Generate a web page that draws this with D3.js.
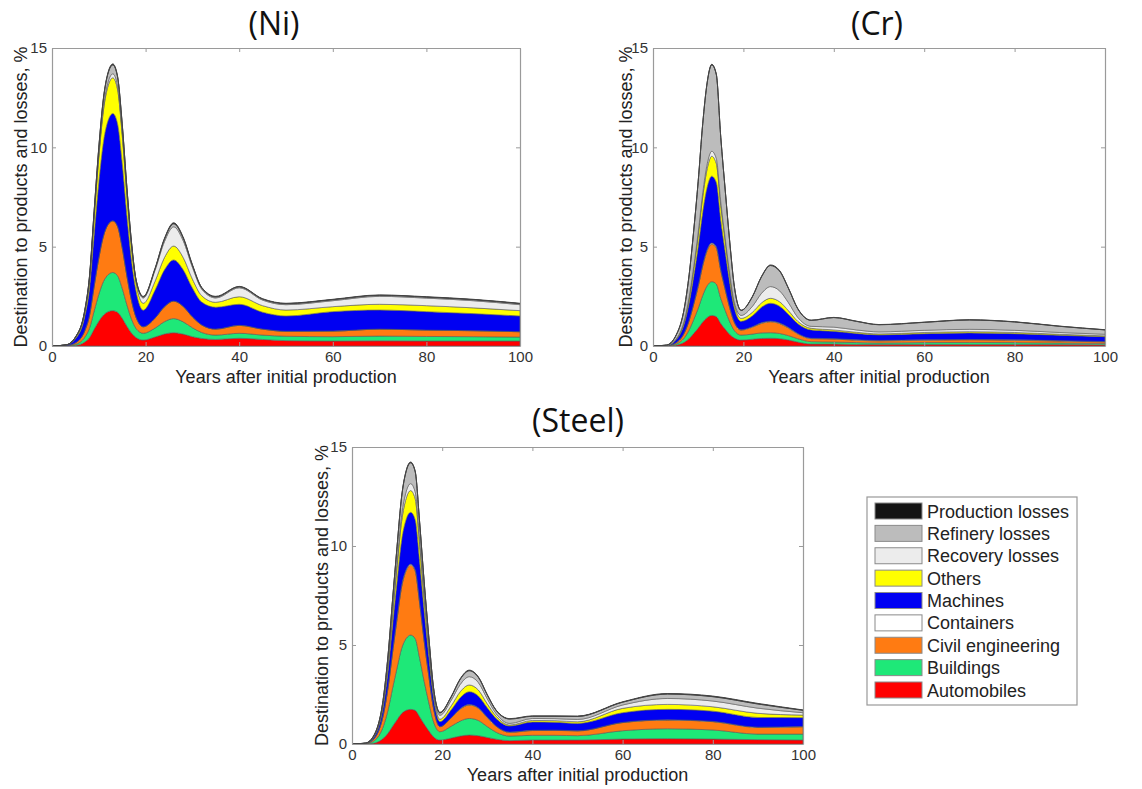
<!DOCTYPE html>
<html>
<head>
<meta charset="utf-8">
<script src="https://cdn.jsdelivr.net/npm/d3@7"></script>
<style>
  html, body { margin: 0; padding: 0; background: #fff; }
  svg { display: block; }
  .tick text { font-family: "Liberation Sans", Arial, sans-serif; font-size: 15px; fill: #333; }
</style>
</head>
<body>
<div id="chart"></div>
<script>
// years sampled along the x axis
const years = [0, 3, 5, 7, 8, 9, 10, 11, 12, 13, 14, 15, 16, 17, 18, 19.5, 22, 24, 26, 28, 30, 32, 35, 40, 45, 50, 60, 70, 80, 90, 100];

const seriesNames = ["Automobiles", "Buildings", "Civil engineering", "Containers", "Machines", "Others", "Recovery losses", "Refinery losses", "Production losses"];
const seriesColors = ["#ff0000", "#1ee878", "#ff7b12", "#ffffff", "#0000f2", "#ffff00", "#ececec", "#bcbcbc", "#141414"];

const xTicks = [0, 20, 40, 60, 80, 100];
const yTicks = [0, 5, 10, 15];

// (Ni) layer thicknesses, %
const niAutomobiles = [0, 0, .03, .2, .42, .84, 1.25, 1.56, 1.73, 1.78, 1.70, 1.40, 1.0, .65, .42, .3, .45, .6, .67, .6, .47, .38, .33, .39, .33, .27, .25, .26, .25, .25, .25];
const niBuildings = [0, .005, .05, .24, .47, .92, 1.35, 1.69, 1.86, 1.92, 1.84, 1.51, 1.08, .70, .45, .34, .45, .62, .71, .62, .45, .30, .22, .25, .22, .22, .22, .24, .23, .22, .20];
const niCivil = [0, .01, .08, .33, .64, 1.24, 1.83, 2.29, 2.53, 2.6, 2.49, 2.05, 1.46, .93, .55, .33, .5, .75, .88, .78, .55, .38, .30, .40, .30, .25, .28, .35, .32, .30, .27];
const niContainers = [0, 0, 0, 0, 0, 0, 0, 0, 0, 0, 0, 0, 0, 0, 0, 0, 0, 0, 0, 0, 0, 0, 0, 0, 0, 0, 0, 0, 0, 0, 0];
const niMachines = [0, .03, .2, .7, 1.33, 2.58, 3.8, 4.75, 5.24, 5.4, 5.17, 4.26, 3.04, 2.0, 1.3, .83, 1.4, 1.85, 2.07, 1.85, 1.45, 1.15, 1.10, 1.06, .85, .77, .98, .96, .93, .86, .79];
const niOthers = [0, .01, .06, .23, .45, .86, 1.27, 1.59, 1.75, 1.8, 1.73, 1.42, 1.02, .66, .42, .35, .45, .62, .70, .62, .45, .32, .25, .38, .33, .30, .25, .29, .30, .29, .27];
const niRecovery = [0, 0, .01, .03, .05, .1, .14, .18, .19, .2, .19, .16, .12, .1, .1, .27, .55, .8, .97, .85, .6, .33, .22, .45, .28, .27, .30, .40, .38, .36, .30];
const niRefinery = [0, 0, .01, .06, .11, .22, .32, .40, .44, .45, .43, .36, .25, .13, .04, .05, .07, .12, .15, .13, .09, .06, .05, .05, .05, .05, .05, .05, .05, .05, .05];
const niProduction = [0, .005, .01, .01, .02, .03, .04, .04, .05, .05, .05, .04, .03, .03, .02, .03, .03, .04, .05, .05, .04, .03, .03, .02, .02, .02, .02, .02, .02, .02, .02];

// (Cr)
const crAutomobiles = [0, 0, .04, .2, .38, .63, .9, 1.21, 1.44, 1.54, 1.48, 1.13, .84, .58, .4, .3, .34, .38, .39, .37, .3, .2, .1, .1, .08, .07, .08, .08, .08, .07, .06];
const crBuildings = [0, .005, .05, .23, .43, .7, 1.0, 1.34, 1.6, 1.7, 1.64, 1.26, .94, .63, .38, .25, .26, .28, .28, .26, .22, .17, .12, .1, .09, .08, .09, .1, .09, .08, .07];
const crCivil = [0, .005, .06, .26, .48, .77, 1.1, 1.49, 1.77, 1.89, 1.82, 1.4, 1.04, .69, .4, .25, .35, .48, .55, .5, .38, .24, .15, .15, .12, .11, .12, .13, .12, .1, .08];
const crContainers = [0, 0, 0, .01, .01, .02, .03, .04, .05, .05, .05, .04, .03, .02, .02, .02, .02, .03, .03, .03, .03, .02, .02, .02, .02, .02, .02, .02, .02, .02, .02];
const crMachines = [0, .015, .13, .48, .86, 1.37, 1.97, 2.65, 3.15, 3.37, 3.25, 2.49, 1.85, 1.23, .7, .42, .55, .78, .9, .84, .66, .5, .42, .37, .32, .28, .31, .33, .31, .27, .24];
const crOthers = [0, .005, .03, .14, .25, .41, .58, .78, .93, 1.0, .96, .74, .55, .36, .22, .15, .18, .22, .25, .23, .18, .12, .08, .07, .06, .05, .06, .06, .06, .05, .04];
const crRecovery = [0, 0, .01, .04, .07, .1, .15, .2, .24, .25, .25, .19, .14, .1, .08, .15, .3, .48, .59, .55, .4, .2, .1, .14, .12, .1, .11, .12, .11, .09, .08];
const crRefinery = [0, .015, .17, .63, 1.1, 1.78, 2.55, 3.47, 4.09, 4.35, 4.22, 3.23, 2.39, 1.57, .78, .25, .48, .83, 1.06, .99, .71, .43, .3, .48, .43, .36, .40, .47, .42, .31, .22];
const crProduction = [0, .005, .01, .01, .02, .02, .02, .02, .03, .03, .03, .02, .02, .02, .02, .01, .02, .02, .03, .03, .02, .02, .01, .01, .01, .01, .01, .01, .01, .01, .01];

// (Steel)
const stAutomobiles = [0, 0, .05, .3, .55, .9, 1.23, 1.54, 1.7, 1.75, 1.7, 1.38, 1.01, .68, .38, .2, .3, .4, .45, .42, .33, .24, .17, .2, .2, .2, .25, .27, .25, .22, .2];
const stBuildings = [0, .01, .13, .63, 1.18, 1.92, 2.63, 3.29, 3.63, 3.75, 3.63, 2.95, 2.16, 1.45, .8, .42, .6, .76, .84, .77, .55, .35, .23, .24, .24, .22, .42, .5, .46, .28, .3];
const stCivil = [0, .01, .12, .6, 1.12, 1.81, 2.48, 3.1, 3.42, 3.53, 3.42, 2.78, 2.03, 1.36, .72, .25, .42, .6, .68, .62, .45, .3, .19, .24, .25, .24, .41, .44, .42, .34, .37];
const stContainers = [0, 0, 0, .01, .02, .03, .04, .05, .05, .05, .05, .04, .03, .02, .01, .01, .01, .02, .02, .02, .02, .01, .01, .01, .01, .01, .01, .01, .01, .01, .01];
const stMachines = [0, .01, .1, .44, .83, 1.34, 1.84, 2.3, 2.54, 2.62, 2.54, 2.06, 1.51, 1.01, .55, .25, .4, .56, .65, .6, .48, .38, .31, .42, .4, .37, .49, .53, .52, .49, .45];
const stOthers = [0, .005, .04, .18, .35, .56, .77, .96, 1.06, 1.1, 1.06, .86, .63, .42, .22, .12, .2, .3, .34, .3, .2, .12, .05, .08, .08, .08, .22, .25, .22, .21, .13];
const stRecovery = [0, 0, .01, .06, .11, .18, .25, .31, .34, .35, .34, .28, .2, .14, .1, .2, .28, .37, .42, .38, .25, .12, .08, .1, .1, .12, .17, .3, .29, .26, .12];
const stRefinery = [0, .01, .04, .17, .33, .54, .74, .92, 1.02, 1.05, 1.02, .83, .61, .4, .2, .12, .17, .26, .3, .26, .19, .16, .22, .11, .12, .15, .14, .22, .22, .21, .12];
const stProduction = [0, .005, .01, .01, .01, .02, .02, .03, .04, .04, .04, .02, .02, .02, .02, .03, .02, .03, .03, .03, .03, .02, .02, .02, .02, .02, .02, .03, .03, .03, .02];

const panels = [
  { title: "(Ni)", titleX: 274, titleY: 35, left: 52, right: 520, top: 48, bottom: 346, yLabelX: 27,
    layers: [niAutomobiles, niBuildings, niCivil, niContainers, niMachines, niOthers, niRecovery, niRefinery, niProduction] },
  { title: "(Cr)", titleX: 877, titleY: 35, left: 653, right: 1105, top: 48, bottom: 346, yLabelX: 632,
    layers: [crAutomobiles, crBuildings, crCivil, crContainers, crMachines, crOthers, crRecovery, crRefinery, crProduction] },
  { title: "(Steel)", titleX: 578, titleY: 432, left: 352, right: 803, top: 447, bottom: 744, yLabelX: 328,
    layers: [stAutomobiles, stBuildings, stCivil, stContainers, stMachines, stOthers, stRecovery, stRefinery, stProduction] },
];

const width = 1142, height = 789;
const axisColor = "#9a9a9a";
const svg = d3.select("#chart").append("svg").attr("width", width).attr("height", height);

function drawPanel(panel) {
  const g = svg.append("g");
  const x = d3.scaleLinear().domain([0, 100]).range([panel.left, panel.right]);
  const y = d3.scaleLinear().domain([0, 15]).range([panel.bottom, panel.top]);

  const rows = years.map((yr, i) => {
    const row = { year: yr };
    seriesNames.forEach((name, k) => { row[name] = panel.layers[k][i]; });
    return row;
  });
  const stacked = d3.stack().keys(seriesNames)(rows);

  const area = d3.area()
    .x((d) => x(d.data.year))
    .y0((d) => y(d[0]))
    .y1((d) => y(d[1]))
    .curve(d3.curveMonotoneX);

  g.append("g")
    .selectAll("path")
    .data(stacked)
    .join("path")
    .attr("d", area)
    .attr("fill", (_, i) => seriesColors[i])
    .attr("stroke", (_, i) => (i === seriesNames.length - 1 ? "#444" : "#5a5a5a"))
    .attr("stroke-width", (_, i) => (i === seriesNames.length - 1 ? 1 : 0.6))
    .attr("stroke-linejoin", "round");

  // boxed axes with inward ticks, like the original
  const axes = [
    { gen: d3.axisBottom(x).tickValues(xTicks), at: `translate(0,${panel.bottom})` },
    { gen: d3.axisTop(x).tickValues(xTicks).tickFormat(""), at: `translate(0,${panel.top})` },
    { gen: d3.axisLeft(y).tickValues(yTicks), at: `translate(${panel.left},0)` },
    { gen: d3.axisRight(y).tickValues(yTicks).tickFormat(""), at: `translate(${panel.right},0)` },
  ];
  axes.forEach((a) => {
    const ag = g.append("g").attr("transform", a.at)
      .call(a.gen.tickSize(-4).tickSizeOuter(0).tickPadding(5));
    ag.select(".domain").attr("stroke", axisColor).attr("stroke-width", 1.2);
    ag.selectAll(".tick line").attr("stroke", axisColor);
  });

  g.append("text")
    .attr("x", (panel.left + panel.right) / 2)
    .attr("y", panel.bottom + 37)
    .attr("text-anchor", "middle")
    .attr("font-family", "'Liberation Sans', Arial, sans-serif")
    .attr("font-size", 18)
    .attr("fill", "#222")
    .text("Years after initial production");

  const cy = (panel.top + panel.bottom) / 2;
  g.append("text")
    .attr("x", panel.yLabelX)
    .attr("y", cy)
    .attr("transform", `rotate(-90,${panel.yLabelX},${cy})`)
    .attr("text-anchor", "middle")
    .attr("font-family", "'Liberation Sans', Arial, sans-serif")
    .attr("font-size", 18)
    .attr("fill", "#222")
    .text("Destination to products and losses, %");

  g.append("text")
    .attr("x", panel.titleX)
    .attr("y", panel.titleY)
    .attr("text-anchor", "middle")
    .attr("font-family", "'Open Sans', sans-serif")
    .attr("font-size", 32)
    .attr("fill", "#111")
    .text(panel.title);
}

panels.forEach(drawPanel);

// legend, top entry is the top layer
const legend = svg.append("g");
legend.append("rect")
  .attr("x", 867).attr("y", 497).attr("width", 210).attr("height", 208)
  .attr("fill", "#fff").attr("stroke", "#999").attr("stroke-width", 1.2);

const legendItems = seriesNames.map((name, i) => ({ name, color: seriesColors[i] })).reverse();
const rowY = d3.scalePoint().domain(legendItems.map((d) => d.name)).range([511, 690]);

const item = legend.selectAll("g.item").data(legendItems).join("g").attr("class", "item")
  .attr("transform", (d) => `translate(0,${rowY(d.name)})`);
item.append("rect")
  .attr("x", 875).attr("y", -8).attr("width", 47).attr("height", 16)
  .attr("fill", (d) => d.color).attr("stroke", "#8a8a8a").attr("stroke-width", 1);
item.append("text")
  .attr("x", 927).attr("y", 6.5)
  .attr("font-family", "'Liberation Sans', Arial, sans-serif")
  .attr("font-size", 18)
  .attr("fill", "#222")
  .text((d) => d.name);
</script>
</body>
</html>
